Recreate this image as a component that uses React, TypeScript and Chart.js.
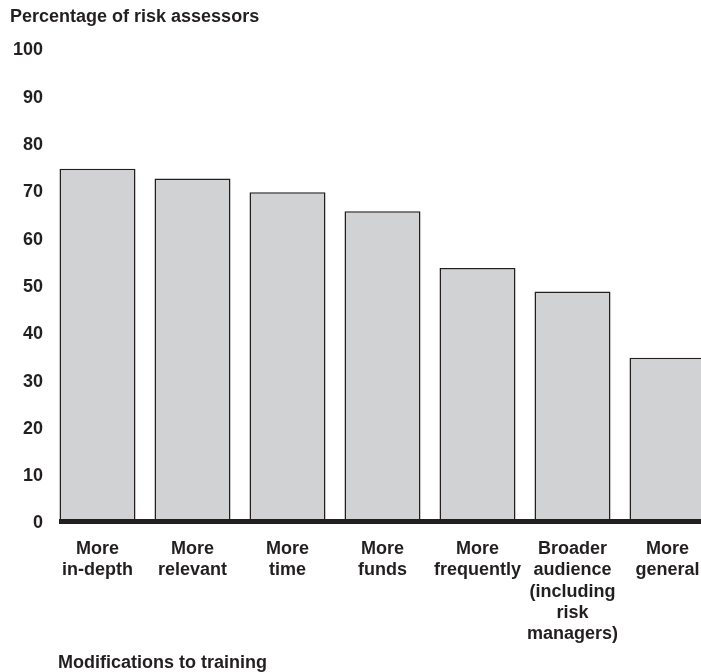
import React, { useEffect, useRef } from "react";
import { Chart, registerables } from "chart.js";

Chart.register(...registerables);

const categories: string[][] = [
  ["More", "in-depth"],
  ["More", "relevant"],
  ["More", "time"],
  ["More", "funds"],
  ["More", "frequently"],
  ["Broader", "audience", "(including", "risk", "managers)"],
  ["More", "general"],
];
const values: number[] = [74.6, 72.5, 69.6, 65.6, 53.6, 48.6, 34.6];
const yTitle = "Percentage of risk assessors";
const xTitle = "Modifications to training";

const FONT = "'Liberation Sans', Arial, Helvetica, sans-serif";
const INK = "#231f20";

export default function App() {
  const ref = useRef<HTMLCanvasElement | null>(null);

  useEffect(() => {
    document.documentElement.style.overflow = "hidden";
    document.body.style.margin = "0";
    document.body.style.overflow = "hidden";
    const canvas = ref.current;
    if (!canvas) return;

    const decor = {
      id: "decor",
      afterDatasetsDraw(chart: any) {
        const ctx = chart.ctx;
        const area = chart.chartArea;
        const meta = chart.getDatasetMeta(0);
        const first = meta.data[0] as any;
        const zeroY = chart.scales.y.getPixelForValue(0);
        ctx.save();
        ctx.fillStyle = INK;
        const left = first.x - first.width / 2 - 0.5;
        ctx.fillRect(left, zeroY - 2.5, area.right + 30 - left, 5);
        ctx.restore();
      },
      afterDraw(chart: any) {
        const ctx = chart.ctx;
        ctx.save();
        ctx.fillStyle = INK;
        ctx.font = `bold 18px ${FONT}`;
        ctx.textAlign = "left";
        ctx.textBaseline = "alphabetic";
        ctx.fillText(yTitle, 10, 22);
        ctx.fillText(xTitle, 58, 668);
        ctx.restore();
      },
    };

    const chart = new Chart(canvas, {
      type: "bar",
      data: {
        labels: categories,
        datasets: [
          {
            data: values,
            backgroundColor: "#d1d2d4",
            borderColor: INK,
            borderWidth: 1.5,
            borderSkipped: "start",
            categoryPercentage: 0.8,
            barPercentage: 1,
          },
        ],
      },
      options: {
        responsive: false,
        animation: false,
        devicePixelRatio: 1,
        layout: { padding: { top: 48.5, right: 15, left: 0, bottom: 0 } },
        plugins: {
          legend: { display: false },
          tooltip: { enabled: false },
          title: { display: false },
        },
        scales: {
          x: {
            grid: { display: false, drawTicks: false },
            border: { display: false },
            ticks: {
              autoSkip: false,
              maxRotation: 0,
              minRotation: 0,
              padding: 17,
              color: INK,
              font: { family: FONT, size: 18, weight: "bold", lineHeight: 1.18 },
            },
            afterFit(scale: any) {
              scale.height = 150.5;
            },
          },
          y: {
            min: 0,
            max: 100,
            grid: { display: false, drawTicks: false },
            border: { display: false },
            ticks: {
              stepSize: 10,
              padding: 7,
              labelOffset: 2,
              color: INK,
              font: { family: FONT, size: 18, weight: "bold" },
            },
            afterFit(scale: any) {
              scale.width = 50;
            },
          },
        },
      },
      plugins: [decor],
    });

    return () => chart.destroy();
  }, []);

  return (
    <div style={{ width: 730, height: 672, overflow: "hidden" }}>
      <canvas ref={ref} width={730} height={672} style={{ display: "block", width: 730, height: 672 }} />
    </div>
  );
}
